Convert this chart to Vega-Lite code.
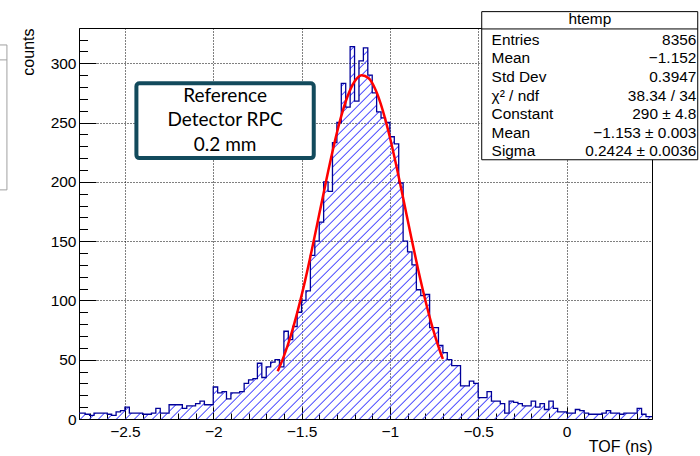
{
"$schema": "https://vega.github.io/schema/vega-lite/v6.json",
"width": 573, "height": 391,
"autosize": {"type": "none"},
"padding": {"left": 79, "top": 28, "right": 48, "bottom": 37},
"background": "white",
"config": {"view": {"stroke": "#000", "strokeWidth": 1}, "font": "Liberation Sans"},
"datasets": {
"hist": [
{"x":-2.775,"n":5},{"x":-2.75,"n":5},{"x":-2.725,"n":4},{"x":-2.7,"n":3},{"x":-2.675,"n":5},{"x":-2.65,"n":5},{"x":-2.625,"n":5},{"x":-2.6,"n":4},{"x":-2.575,"n":3},{"x":-2.55,"n":6},{"x":-2.525,"n":7},
{"x":-2.5,"n":10},{"x":-2.475,"n":5},{"x":-2.45,"n":5},{"x":-2.425,"n":5},{"x":-2.4,"n":4},{"x":-2.375,"n":4},{"x":-2.35,"n":5},{"x":-2.325,"n":9},{"x":-2.3,"n":5},{"x":-2.275,"n":5},
{"x":-2.25,"n":12},{"x":-2.225,"n":12},{"x":-2.2,"n":12},{"x":-2.175,"n":9},{"x":-2.15,"n":11},{"x":-2.125,"n":11},{"x":-2.1,"n":13},{"x":-2.075,"n":15},{"x":-2.05,"n":12},{"x":-2.025,"n":12},
{"x":-2.0,"n":27},{"x":-1.975,"n":22},{"x":-1.95,"n":23},{"x":-1.925,"n":17},{"x":-1.9,"n":22},{"x":-1.875,"n":22},{"x":-1.85,"n":23},{"x":-1.825,"n":30},{"x":-1.8,"n":33},{"x":-1.775,"n":34},
{"x":-1.75,"n":47},{"x":-1.725,"n":35},{"x":-1.7,"n":44},{"x":-1.675,"n":48},{"x":-1.65,"n":50},{"x":-1.625,"n":44},{"x":-1.6,"n":74},{"x":-1.575,"n":67},{"x":-1.55,"n":78},{"x":-1.525,"n":90},
{"x":-1.5,"n":100},{"x":-1.475,"n":108},{"x":-1.45,"n":138},{"x":-1.425,"n":150},{"x":-1.4,"n":166},{"x":-1.375,"n":200},{"x":-1.35,"n":192},{"x":-1.325,"n":233},{"x":-1.3,"n":250},{"x":-1.275,"n":283},
{"x":-1.25,"n":263},{"x":-1.225,"n":314},{"x":-1.2,"n":268},{"x":-1.175,"n":302},{"x":-1.15,"n":313},{"x":-1.125,"n":290},{"x":-1.1,"n":275},{"x":-1.075,"n":259},{"x":-1.05,"n":254},{"x":-1.025,"n":250},
{"x":-1.0,"n":238},{"x":-0.975,"n":232},{"x":-0.95,"n":199},{"x":-0.925,"n":150},{"x":-0.9,"n":141},{"x":-0.875,"n":130},{"x":-0.85,"n":109},{"x":-0.825,"n":104},{"x":-0.8,"n":105},{"x":-0.775,"n":77},
{"x":-0.75,"n":77},{"x":-0.725,"n":62},{"x":-0.7,"n":56},{"x":-0.675,"n":50},{"x":-0.65,"n":45},{"x":-0.625,"n":45},{"x":-0.6,"n":28},{"x":-0.575,"n":28},{"x":-0.55,"n":32},{"x":-0.525,"n":30},
{"x":-0.5,"n":18},{"x":-0.475,"n":18},{"x":-0.45,"n":23},{"x":-0.425,"n":15},{"x":-0.4,"n":15},{"x":-0.375,"n":13},{"x":-0.35,"n":5},{"x":-0.325,"n":15},{"x":-0.3,"n":14},{"x":-0.275,"n":13},
{"x":-0.25,"n":11},{"x":-0.225,"n":11},{"x":-0.2,"n":15},{"x":-0.175,"n":10},{"x":-0.15,"n":13},{"x":-0.125,"n":8},{"x":-0.1,"n":15},{"x":-0.075,"n":9},{"x":-0.05,"n":6},{"x":-0.025,"n":6},
{"x":0.0,"n":5},{"x":0.025,"n":5},{"x":0.05,"n":8},{"x":0.075,"n":7},{"x":0.1,"n":5},{"x":0.125,"n":4},{"x":0.15,"n":4},{"x":0.175,"n":4},{"x":0.2,"n":5},{"x":0.225,"n":7},
{"x":0.25,"n":5},{"x":0.275,"n":5},{"x":0.3,"n":4},{"x":0.325,"n":5},{"x":0.35,"n":5},{"x":0.375,"n":5},{"x":0.4,"n":9},{"x":0.425,"n":4},{"x":0.45,"n":2},{"x":0.475,"n":2},{"x":0.5,"n":2}
],
"fit": [
{"x":-1.635,"g":40.2},{"x":-1.6,"g":53.0},{"x":-1.56,"g":70.8},{"x":-1.52,"g":92.2},{"x":-1.48,"g":116.7},{"x":-1.44,"g":143.9},{"x":-1.4,"g":172.6},{"x":-1.36,"g":201.4},{"x":-1.32,"g":228.7},{"x":-1.28,"g":252.8},{"x":-1.24,"g":271.9},{"x":-1.2,"g":284.6},{"x":-1.16,"g":289.9},{"x":-1.12,"g":287.3},{"x":-1.08,"g":277.2},{"x":-1.04,"g":260.1},{"x":-1.0,"g":237.6},{"x":-0.96,"g":211.2},{"x":-0.92,"g":182.7},{"x":-0.88,"g":153.8},{"x":-0.84,"g":126.0},{"x":-0.8,"g":100.5},{"x":-0.76,"g":77.9},{"x":-0.72,"g":58.8},{"x":-0.7,"g":50.6}
],
"stats": [
{"l":"Entries","v":"8356","y":319.6},
{"l":"Mean","v":"−1.152","y":304.5},
{"l":"Std Dev","v":"0.3947","y":288.4},
{"l":"χ² / ndf","v":"38.34 / 34","y":272.4},
{"l":"Constant","v":"290 ± 4.8","y":257.2},
{"l":"Mean","v":"−1.153 ± 0.003","y":241.2},
{"l":"Sigma","v":"0.2424 ± 0.0036","y":226.1}
],
"note": [
{"t":"Reference","x":-1.933,"y":272.4},
{"t":"Detector RPC","x":-1.933,"y":252.2},
{"t":"0.2 mm","x":-1.933,"y":231.2}
]
},
"resolve": {"axis": {"x": "independent", "y": "independent"}},
"layer": [
{
"data": {"name": "hist"},
"mark": {"type": "area", "interpolate": "step-after", "clip": true, "line": false, "fill": {"gradient": "linear", "x1": 0, "y1": 0, "x2": 1.3752, "y2": 0.8858, "stops": [
{"offset":0,"color":"rgba(70,70,255,0)"},
{"offset":0.224,"color":"rgba(70,70,255,0)"},{"offset":0.2296,"color":"rgba(70,70,255,0)"},{"offset":0.2308,"color":"rgba(70,70,255,1)"},
{"offset":0.232,"color":"rgba(70,70,255,0)"},{"offset":0.2376,"color":"rgba(70,70,255,0)"},{"offset":0.2388,"color":"rgba(70,70,255,1)"},
{"offset":0.24,"color":"rgba(70,70,255,0)"},{"offset":0.2456,"color":"rgba(70,70,255,0)"},{"offset":0.2468,"color":"rgba(70,70,255,1)"},
{"offset":0.248,"color":"rgba(70,70,255,0)"},{"offset":0.2536,"color":"rgba(70,70,255,0)"},{"offset":0.2548,"color":"rgba(70,70,255,1)"},
{"offset":0.256,"color":"rgba(70,70,255,0)"},{"offset":0.2616,"color":"rgba(70,70,255,0)"},{"offset":0.2628,"color":"rgba(70,70,255,1)"},
{"offset":0.264,"color":"rgba(70,70,255,0)"},{"offset":0.2696,"color":"rgba(70,70,255,0)"},{"offset":0.2708,"color":"rgba(70,70,255,1)"},
{"offset":0.272,"color":"rgba(70,70,255,0)"},{"offset":0.2776,"color":"rgba(70,70,255,0)"},{"offset":0.2788,"color":"rgba(70,70,255,1)"},
{"offset":0.28,"color":"rgba(70,70,255,0)"},{"offset":0.2856,"color":"rgba(70,70,255,0)"},{"offset":0.2868,"color":"rgba(70,70,255,1)"},
{"offset":0.288,"color":"rgba(70,70,255,0)"},{"offset":0.2936,"color":"rgba(70,70,255,0)"},{"offset":0.2948,"color":"rgba(70,70,255,1)"},
{"offset":0.296,"color":"rgba(70,70,255,0)"},{"offset":0.3016,"color":"rgba(70,70,255,0)"},{"offset":0.3028,"color":"rgba(70,70,255,1)"},
{"offset":0.304,"color":"rgba(70,70,255,0)"},{"offset":0.3096,"color":"rgba(70,70,255,0)"},{"offset":0.3108,"color":"rgba(70,70,255,1)"},
{"offset":0.312,"color":"rgba(70,70,255,0)"},{"offset":0.3176,"color":"rgba(70,70,255,0)"},{"offset":0.3188,"color":"rgba(70,70,255,1)"},
{"offset":0.32,"color":"rgba(70,70,255,0)"},{"offset":0.3256,"color":"rgba(70,70,255,0)"},{"offset":0.3268,"color":"rgba(70,70,255,1)"},
{"offset":0.328,"color":"rgba(70,70,255,0)"},{"offset":0.3336,"color":"rgba(70,70,255,0)"},{"offset":0.3348,"color":"rgba(70,70,255,1)"},
{"offset":0.336,"color":"rgba(70,70,255,0)"},{"offset":0.3416,"color":"rgba(70,70,255,0)"},{"offset":0.3428,"color":"rgba(70,70,255,1)"},
{"offset":0.344,"color":"rgba(70,70,255,0)"},{"offset":0.3496,"color":"rgba(70,70,255,0)"},{"offset":0.3508,"color":"rgba(70,70,255,1)"},
{"offset":0.352,"color":"rgba(70,70,255,0)"},{"offset":0.3576,"color":"rgba(70,70,255,0)"},{"offset":0.3588,"color":"rgba(70,70,255,1)"},
{"offset":0.36,"color":"rgba(70,70,255,0)"},{"offset":0.3656,"color":"rgba(70,70,255,0)"},{"offset":0.3668,"color":"rgba(70,70,255,1)"},
{"offset":0.368,"color":"rgba(70,70,255,0)"},{"offset":0.3736,"color":"rgba(70,70,255,0)"},{"offset":0.3748,"color":"rgba(70,70,255,1)"},
{"offset":0.376,"color":"rgba(70,70,255,0)"},{"offset":0.3816,"color":"rgba(70,70,255,0)"},{"offset":0.3828,"color":"rgba(70,70,255,1)"},
{"offset":0.384,"color":"rgba(70,70,255,0)"},{"offset":0.3896,"color":"rgba(70,70,255,0)"},{"offset":0.3908,"color":"rgba(70,70,255,1)"},
{"offset":0.392,"color":"rgba(70,70,255,0)"},{"offset":0.3976,"color":"rgba(70,70,255,0)"},{"offset":0.3988,"color":"rgba(70,70,255,1)"},
{"offset":0.4,"color":"rgba(70,70,255,0)"},{"offset":0.4056,"color":"rgba(70,70,255,0)"},{"offset":0.4068,"color":"rgba(70,70,255,1)"},
{"offset":0.408,"color":"rgba(70,70,255,0)"},{"offset":0.4136,"color":"rgba(70,70,255,0)"},{"offset":0.4148,"color":"rgba(70,70,255,1)"},
{"offset":0.416,"color":"rgba(70,70,255,0)"},{"offset":0.4216,"color":"rgba(70,70,255,0)"},{"offset":0.4228,"color":"rgba(70,70,255,1)"},
{"offset":0.424,"color":"rgba(70,70,255,0)"},{"offset":0.4296,"color":"rgba(70,70,255,0)"},{"offset":0.4308,"color":"rgba(70,70,255,1)"},
{"offset":0.432,"color":"rgba(70,70,255,0)"},{"offset":0.4376,"color":"rgba(70,70,255,0)"},{"offset":0.4388,"color":"rgba(70,70,255,1)"},
{"offset":0.44,"color":"rgba(70,70,255,0)"},{"offset":0.4456,"color":"rgba(70,70,255,0)"},{"offset":0.4468,"color":"rgba(70,70,255,1)"},
{"offset":0.448,"color":"rgba(70,70,255,0)"},{"offset":0.4536,"color":"rgba(70,70,255,0)"},{"offset":0.4548,"color":"rgba(70,70,255,1)"},
{"offset":0.456,"color":"rgba(70,70,255,0)"},{"offset":0.4616,"color":"rgba(70,70,255,0)"},{"offset":0.4628,"color":"rgba(70,70,255,1)"},
{"offset":0.464,"color":"rgba(70,70,255,0)"},{"offset":0.4696,"color":"rgba(70,70,255,0)"},{"offset":0.4708,"color":"rgba(70,70,255,1)"},
{"offset":0.472,"color":"rgba(70,70,255,0)"},{"offset":0.4776,"color":"rgba(70,70,255,0)"},{"offset":0.4788,"color":"rgba(70,70,255,1)"},
{"offset":0.48,"color":"rgba(70,70,255,0)"},{"offset":0.4856,"color":"rgba(70,70,255,0)"},{"offset":0.4868,"color":"rgba(70,70,255,1)"},
{"offset":0.488,"color":"rgba(70,70,255,0)"},{"offset":0.4936,"color":"rgba(70,70,255,0)"},{"offset":0.4948,"color":"rgba(70,70,255,1)"},
{"offset":0.496,"color":"rgba(70,70,255,0)"},{"offset":0.5016,"color":"rgba(70,70,255,0)"},{"offset":0.5028,"color":"rgba(70,70,255,1)"},
{"offset":0.504,"color":"rgba(70,70,255,0)"},{"offset":0.5096,"color":"rgba(70,70,255,0)"},{"offset":0.5108,"color":"rgba(70,70,255,1)"},
{"offset":0.512,"color":"rgba(70,70,255,0)"},{"offset":0.5176,"color":"rgba(70,70,255,0)"},{"offset":0.5188,"color":"rgba(70,70,255,1)"},
{"offset":0.52,"color":"rgba(70,70,255,0)"},{"offset":0.5256,"color":"rgba(70,70,255,0)"},{"offset":0.5268,"color":"rgba(70,70,255,1)"},
{"offset":0.528,"color":"rgba(70,70,255,0)"},{"offset":0.5336,"color":"rgba(70,70,255,0)"},{"offset":0.5348,"color":"rgba(70,70,255,1)"},
{"offset":0.536,"color":"rgba(70,70,255,0)"},{"offset":0.5416,"color":"rgba(70,70,255,0)"},{"offset":0.5428,"color":"rgba(70,70,255,1)"},
{"offset":0.544,"color":"rgba(70,70,255,0)"},{"offset":0.5496,"color":"rgba(70,70,255,0)"},{"offset":0.5508,"color":"rgba(70,70,255,1)"},
{"offset":0.552,"color":"rgba(70,70,255,0)"},{"offset":0.5576,"color":"rgba(70,70,255,0)"},{"offset":0.5588,"color":"rgba(70,70,255,1)"},
{"offset":0.56,"color":"rgba(70,70,255,0)"},{"offset":0.5656,"color":"rgba(70,70,255,0)"},{"offset":0.5668,"color":"rgba(70,70,255,1)"},
{"offset":0.568,"color":"rgba(70,70,255,0)"},{"offset":0.5736,"color":"rgba(70,70,255,0)"},{"offset":0.5748,"color":"rgba(70,70,255,1)"},
{"offset":0.576,"color":"rgba(70,70,255,0)"},{"offset":0.5816,"color":"rgba(70,70,255,0)"},{"offset":0.5828,"color":"rgba(70,70,255,1)"},
{"offset":0.584,"color":"rgba(70,70,255,0)"},{"offset":0.5896,"color":"rgba(70,70,255,0)"},{"offset":0.5908,"color":"rgba(70,70,255,1)"},
{"offset":0.592,"color":"rgba(70,70,255,0)"},{"offset":0.5976,"color":"rgba(70,70,255,0)"},{"offset":0.5988,"color":"rgba(70,70,255,1)"},
{"offset":0.6,"color":"rgba(70,70,255,0)"},{"offset":0.6056,"color":"rgba(70,70,255,0)"},{"offset":0.6068,"color":"rgba(70,70,255,1)"},
{"offset":0.608,"color":"rgba(70,70,255,0)"},{"offset":0.6136,"color":"rgba(70,70,255,0)"},{"offset":0.6148,"color":"rgba(70,70,255,1)"},
{"offset":0.616,"color":"rgba(70,70,255,0)"},{"offset":0.6216,"color":"rgba(70,70,255,0)"},{"offset":0.6228,"color":"rgba(70,70,255,1)"},
{"offset":0.624,"color":"rgba(70,70,255,0)"},{"offset":0.6296,"color":"rgba(70,70,255,0)"},{"offset":0.6308,"color":"rgba(70,70,255,1)"},
{"offset":0.632,"color":"rgba(70,70,255,0)"},{"offset":0.6376,"color":"rgba(70,70,255,0)"},{"offset":0.6388,"color":"rgba(70,70,255,1)"},
{"offset":0.64,"color":"rgba(70,70,255,0)"},{"offset":0.6456,"color":"rgba(70,70,255,0)"},{"offset":0.6468,"color":"rgba(70,70,255,1)"},
{"offset":0.648,"color":"rgba(70,70,255,0)"},{"offset":0.6536,"color":"rgba(70,70,255,0)"},{"offset":0.6548,"color":"rgba(70,70,255,1)"},
{"offset":0.656,"color":"rgba(70,70,255,0)"},{"offset":0.6616,"color":"rgba(70,70,255,0)"},{"offset":0.6628,"color":"rgba(70,70,255,1)"},
{"offset":0.664,"color":"rgba(70,70,255,0)"},{"offset":0.6696,"color":"rgba(70,70,255,0)"},{"offset":0.6708,"color":"rgba(70,70,255,1)"},
{"offset":0.672,"color":"rgba(70,70,255,0)"},{"offset":0.6776,"color":"rgba(70,70,255,0)"},{"offset":0.6788,"color":"rgba(70,70,255,1)"},
{"offset":0.68,"color":"rgba(70,70,255,0)"},{"offset":0.6856,"color":"rgba(70,70,255,0)"},{"offset":0.6868,"color":"rgba(70,70,255,1)"},
{"offset":0.688,"color":"rgba(70,70,255,0)"},{"offset":0.6936,"color":"rgba(70,70,255,0)"},{"offset":0.6948,"color":"rgba(70,70,255,1)"},
{"offset":0.696,"color":"rgba(70,70,255,0)"},{"offset":0.7016,"color":"rgba(70,70,255,0)"},{"offset":0.7028,"color":"rgba(70,70,255,1)"},
{"offset":0.704,"color":"rgba(70,70,255,0)"},{"offset":0.7096,"color":"rgba(70,70,255,0)"},{"offset":0.7108,"color":"rgba(70,70,255,1)"},
{"offset":0.712,"color":"rgba(70,70,255,0)"},{"offset":0.7176,"color":"rgba(70,70,255,0)"},{"offset":0.7188,"color":"rgba(70,70,255,1)"},
{"offset":0.72,"color":"rgba(70,70,255,0)"},{"offset":0.7256,"color":"rgba(70,70,255,0)"},{"offset":0.7268,"color":"rgba(70,70,255,1)"},
{"offset":0.728,"color":"rgba(70,70,255,0)"},{"offset":0.7336,"color":"rgba(70,70,255,0)"},{"offset":0.7348,"color":"rgba(70,70,255,1)"},
{"offset":0.736,"color":"rgba(70,70,255,0)"},{"offset":0.7416,"color":"rgba(70,70,255,0)"},{"offset":0.7428,"color":"rgba(70,70,255,1)"},
{"offset":0.744,"color":"rgba(70,70,255,0)"},{"offset":0.7496,"color":"rgba(70,70,255,0)"},{"offset":0.7508,"color":"rgba(70,70,255,1)"},
{"offset":0.752,"color":"rgba(70,70,255,0)"},{"offset":0.7576,"color":"rgba(70,70,255,0)"},{"offset":0.7588,"color":"rgba(70,70,255,1)"},
{"offset":0.76,"color":"rgba(70,70,255,0)"},{"offset":0.7656,"color":"rgba(70,70,255,0)"},{"offset":0.7668,"color":"rgba(70,70,255,1)"},
{"offset":0.768,"color":"rgba(70,70,255,0)"},{"offset":0.7736,"color":"rgba(70,70,255,0)"},{"offset":0.7748,"color":"rgba(70,70,255,1)"},
{"offset":0.776,"color":"rgba(70,70,255,0)"},{"offset":0.7816,"color":"rgba(70,70,255,0)"},{"offset":0.7828,"color":"rgba(70,70,255,1)"},
{"offset":0.784,"color":"rgba(70,70,255,0)"},{"offset":0.7896,"color":"rgba(70,70,255,0)"},{"offset":0.7908,"color":"rgba(70,70,255,1)"},
{"offset":0.792,"color":"rgba(70,70,255,0)"},{"offset":0.7976,"color":"rgba(70,70,255,0)"},{"offset":0.7988,"color":"rgba(70,70,255,1)"},
{"offset":0.8,"color":"rgba(70,70,255,0)"},{"offset":0.8056,"color":"rgba(70,70,255,0)"},{"offset":0.8068,"color":"rgba(70,70,255,1)"},
{"offset":0.808,"color":"rgba(70,70,255,0)"},{"offset":0.8136,"color":"rgba(70,70,255,0)"},{"offset":0.8148,"color":"rgba(70,70,255,1)"},
{"offset":0.816,"color":"rgba(70,70,255,0)"},{"offset":0.8216,"color":"rgba(70,70,255,0)"},{"offset":0.8228,"color":"rgba(70,70,255,1)"},
{"offset":0.824,"color":"rgba(70,70,255,0)"},{"offset":0.8296,"color":"rgba(70,70,255,0)"},{"offset":0.8308,"color":"rgba(70,70,255,1)"},
{"offset":0.832,"color":"rgba(70,70,255,0)"},{"offset":0.8376,"color":"rgba(70,70,255,0)"},{"offset":0.8388,"color":"rgba(70,70,255,1)"},
{"offset":0.84,"color":"rgba(70,70,255,0)"},{"offset":0.8456,"color":"rgba(70,70,255,0)"},{"offset":0.8468,"color":"rgba(70,70,255,1)"},
{"offset":0.848,"color":"rgba(70,70,255,0)"},{"offset":0.8536,"color":"rgba(70,70,255,0)"},{"offset":0.8548,"color":"rgba(70,70,255,1)"},
{"offset":0.856,"color":"rgba(70,70,255,0)"},{"offset":1,"color":"rgba(70,70,255,0)"}
]}},
"encoding": {
"x": {"field": "x", "type": "quantitative", "scale": {"domain": [-2.76, 0.484], "nice": false, "zero": false},
 "axis": {"orient": "bottom", "values": [-2.5, -2, -1.5, -1, -0.5, 0], "format": ".1~f", "labelFontSize": 15.5, "labelColor": "#000", "labelPadding": 17, "labelFlush": false, "labelOverlap": false,
  "tickSize": -12, "tickColor": "#000", "domainColor": "#000", "grid": true, "gridColor": "#000", "gridDash": [1, 2], "gridOpacity": 1,
  "title": "TOF (ns)", "titleFontSize": 16, "titleFontWeight": "normal", "titleColor": "#000", "titleAnchor": "end", "titleAlign": "right", "titleX": 573, "titleY": 32, "titleBaseline": "alphabetic"}},
"y": {"field": "n", "type": "quantitative", "scale": {"domain": [0, 329.7], "nice": false},
 "axis": {"orient": "left", "values": [0, 50, 100, 150, 200, 250, 300], "format": "d", "labelFontSize": 15.5, "labelColor": "#000", "labelPadding": 20,
  "tickSize": -17, "tickColor": "#000", "domainColor": "#000", "grid": true, "gridColor": "#000", "gridDash": [1, 2], "gridOpacity": 1,
  "title": "counts", "titleFontSize": 16, "titleFontWeight": "normal", "titleColor": "#000", "titleAngle": 270, "titleAnchor": "end", "titleAlign": "right", "titleX": -46, "titleY": 0, "titleBaseline": "alphabetic"}}
}
},
{
"data": {"name": "hist"},
"mark": {"type": "line", "interpolate": "step-after", "clip": true, "color": "#000099", "strokeWidth": 1.3},
"encoding": {
"x": {"field": "x", "type": "quantitative", "axis": {"orient": "bottom", "values": [-2.7,-2.6,-2.4,-2.3,-2.2,-2.1,-1.9,-1.8,-1.7,-1.6,-1.4,-1.3,-1.2,-1.1,-0.9,-0.8,-0.7,-0.6,-0.4,-0.3,-0.2,-0.1,0.1,0.2,0.3,0.4], "labels": false, "grid": false, "domain": false, "tickSize": -6, "tickColor": "#000", "title": null}},
"y": {"field": "n", "type": "quantitative", "axis": {"orient": "left", "values": [10,20,30,40,60,70,80,90,110,120,130,140,160,170,180,190,210,220,230,240,260,270,280,290,310,320], "labels": false, "grid": false, "domain": false, "tickSize": -8.5, "tickColor": "#000", "title": null}}
}
},
{
"data": {"name": "fit"},
"mark": {"type": "line", "interpolate": "monotone", "color": "#ff0000", "strokeWidth": 2.5},
"encoding": {"x": {"field": "x", "type": "quantitative", "axis": null}, "y": {"field": "g", "type": "quantitative", "axis": null}}
},
{
"data": {"values": [{"x1": -2.435, "x2": -1.431, "y1": 283.1, "y2": 220.0}]},
"mark": {"type": "rect", "fill": "white", "stroke": "#124a5c", "strokeWidth": 4, "cornerRadius": 3},
"encoding": {"x": {"field": "x1", "type": "quantitative", "axis": null}, "x2": {"field": "x2"}, "y": {"field": "y1", "type": "quantitative", "axis": null}, "y2": {"field": "y2"}}
},
{
"data": {"name": "note"},
"mark": {"type": "text", "font": "Lato", "fontSize": 19, "align": "center", "baseline": "middle", "color": "#000"},
"encoding": {"x": {"field": "x", "type": "quantitative", "axis": null}, "y": {"field": "y", "type": "quantitative", "axis": null}, "text": {"field": "t"}}
},
{
"data": {"values": [{"x1": -0.48, "x2": 0.743, "y1": 343.5, "y2": 218.6}]},
"mark": {"type": "rect", "fill": "white", "stroke": "#000", "strokeWidth": 1},
"encoding": {"x": {"field": "x1", "type": "quantitative", "axis": null}, "x2": {"field": "x2"}, "y": {"field": "y1", "type": "quantitative", "axis": null}, "y2": {"field": "y2"}}
},
{
"data": {"values": [{"x1": -0.48, "x2": 0.743, "y": 328.9}]},
"mark": {"type": "rule", "stroke": "#000", "strokeWidth": 1},
"encoding": {"x": {"field": "x1", "type": "quantitative", "axis": null}, "x2": {"field": "x2"}, "y": {"field": "y", "type": "quantitative", "axis": null}}
},
{
"data": {"values": [{"t": "htemp", "x": 0.132, "y": 337.3}]},
"mark": {"type": "text", "fontSize": 15.4, "align": "center", "baseline": "middle", "color": "#000"},
"encoding": {"x": {"field": "x", "type": "quantitative", "axis": null}, "y": {"field": "y", "type": "quantitative", "axis": null}, "text": {"field": "t"}}
},
{
"data": {"name": "stats"},
"mark": {"type": "text", "fontSize": 15.4, "align": "left", "baseline": "middle", "color": "#000"},
"encoding": {"x": {"datum": -0.424, "type": "quantitative", "axis": null}, "y": {"field": "y", "type": "quantitative", "axis": null}, "text": {"field": "l"}}
},
{
"data": {"name": "stats"},
"mark": {"type": "text", "fontSize": 15.4, "align": "right", "baseline": "middle", "color": "#000"},
"encoding": {"x": {"datum": 0.735, "type": "quantitative", "axis": null}, "y": {"field": "y", "type": "quantitative", "axis": null}, "text": {"field": "v"}}
},
{
"data": {"values": [{"x1": -3.7, "x2": -3.168, "y1": 315.4, "y2": 193.2}]},
"mark": {"type": "rect", "fill": "white", "stroke": "#a0a0a0", "strokeWidth": 1},
"encoding": {"x": {"field": "x1", "type": "quantitative", "axis": null}, "x2": {"field": "x2"}, "y": {"field": "y1", "type": "quantitative", "axis": null}, "y2": {"field": "y2"}}
},
{
"data": {"values": [{"x1": -3.7, "x2": -3.168, "y": 302.8}]},
"mark": {"type": "rule", "stroke": "#a0a0a0", "strokeWidth": 1},
"encoding": {"x": {"field": "x1", "type": "quantitative", "axis": null}, "x2": {"field": "x2"}, "y": {"field": "y", "type": "quantitative", "axis": null}}
}
]
}
